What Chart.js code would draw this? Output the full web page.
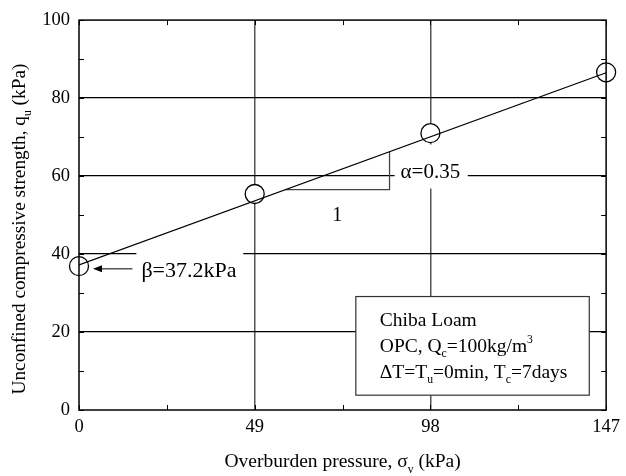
<!DOCTYPE html>
<html>
<head>
<meta charset="utf-8">
<script src="https://cdn.jsdelivr.net/npm/chart.js@4.4.1/dist/chart.umd.min.js"></script>
<style>
  html, body { margin: 0; padding: 0; background: #fff; }
  #wrap { width: 626px; height: 476px; }
</style>
</head>
<body>
<div id="wrap"><canvas id="chart" width="626" height="476"></canvas></div>
<script>
// measured points
const pressure = [0, 49, 98, 147];
const strength = [36.9, 55.4, 71.0, 86.6];
// fitted line qu = beta + alpha * sigma_v
const fitX = [0, 147];
const fitY = [37.2, 86.5];
// slope triangle
const triX = [57.5, 86.6, 86.6];
const triY = [56.5, 56.5, 66.2];
const xTicks = [0, 49, 98, 147];
const yTicks = [0, 20, 40, 60, 80, 100];
const xMinor = [24.5, 73.5, 122.5];
const yMinor = [10, 30, 50, 70, 90];

const FONT = "'Liberation Serif', 'Times New Roman', serif";

const toXY = (xs, ys) => xs.map((x, i) => ({ x: x, y: ys[i] }));

// write text with sub/superscript pieces: [text, 'n'|'sub'|'sup']
const drawRich = (ctx, parts, x, y, size, align) => {
  const widthOf = (p) => {
    ctx.font = (p[1] === 'n' ? size : size * 0.6) + 'px ' + FONT;
    return ctx.measureText(p[0]).width;
  };
  let total = parts.reduce((s, p) => s + widthOf(p), 0);
  let cx = align === 'center' ? x - total / 2 : x;
  ctx.textAlign = 'left';
  ctx.textBaseline = 'alphabetic';
  parts.forEach(p => {
    const w = widthOf(p);
    let dy = 0;
    if (p[1] === 'sub') dy = size * 0.3;
    if (p[1] === 'sup') dy = -size * 0.45;
    ctx.fillText(p[0], cx, y + dy);
    cx += w;
  });
};

const decor = {
  id: 'decor',
  beforeDatasetsDraw(chart) {
    const { ctx, chartArea: a, scales: { x, y } } = chart;
    ctx.save();
    ctx.fillStyle = '#fff';
    // gaps in the grid behind labels
    ctx.fillRect(x.getPixelForValue(88), y.getPixelForValue(68.1), x.getPixelForValue(108.4) - x.getPixelForValue(88), y.getPixelForValue(56.8) - y.getPixelForValue(68.1));
    ctx.fillRect(x.getPixelForValue(16), y.getPixelForValue(42), x.getPixelForValue(45.8) - x.getPixelForValue(16), y.getPixelForValue(32) - y.getPixelForValue(42));

    ctx.fillStyle = '#000';
    ctx.font = '21px ' + FONT;
    ctx.textAlign = 'center';
    ctx.textBaseline = 'alphabetic';
    ctx.fillText('\u03B1=0.35', x.getPixelForValue(98), y.getPixelForValue(59.6));
    ctx.font = '20px ' + FONT;
    ctx.fillText('1', x.getPixelForValue(72), y.getPixelForValue(48.6));
    ctx.textAlign = 'left';
    ctx.font = '22px ' + FONT;
    ctx.fillText('\u03B2=37.2kPa', x.getPixelForValue(17.4), y.getPixelForValue(34.2));

    // arrow pointing at beta
    const ay = y.getPixelForValue(36.2);
    const ax0 = x.getPixelForValue(14.9), ax1 = x.getPixelForValue(3.9);
    ctx.strokeStyle = '#000';
    ctx.lineWidth = 1;
    ctx.beginPath();
    ctx.moveTo(ax0, ay);
    ctx.lineTo(ax1 + 6, ay);
    ctx.stroke();
    ctx.beginPath();
    ctx.moveTo(ax1, ay);
    ctx.lineTo(ax1 + 9, ay - 3.5);
    ctx.lineTo(ax1 + 9, ay + 3.5);
    ctx.closePath();
    ctx.fill();

    // legend box
    const bx0 = x.getPixelForValue(77.2), bx1 = x.getPixelForValue(142.3);
    const by0 = y.getPixelForValue(29.1), by1 = y.getPixelForValue(3.8);
    ctx.fillStyle = '#fff';
    ctx.fillRect(bx0, by0, bx1 - bx0, by1 - by0);
    ctx.strokeStyle = '#333';
    ctx.lineWidth = 1.2;
    ctx.strokeRect(bx0, by0, bx1 - bx0, by1 - by0);
    ctx.fillStyle = '#000';
    const lx = bx0 + 24;
    ctx.font = '19.5px ' + FONT;
    ctx.textAlign = 'left';
    ctx.fillText('Chiba Loam', lx, by0 + 29);
    drawRich(ctx, [['OPC, Q', 'n'], ['c', 'sub'], ['=100kg/m', 'n'], ['3', 'sup']], lx, by0 + 55, 19.5, 'left');
    drawRich(ctx, [['\u0394T=T', 'n'], ['u', 'sub'], ['=0min, T', 'n'], ['c', 'sub'], ['=7days', 'n']], lx, by0 + 81, 19.5, 'left');
    ctx.restore();
  },
  afterDraw(chart) {
    const { ctx, chartArea: a, scales: { x, y } } = chart;
    ctx.save();
    ctx.strokeStyle = '#000';
    ctx.lineWidth = 1;
    // minor / major ticks inward on all four sides
    ctx.beginPath();
    xMinor.concat(xTicks).forEach(v => {
      const px = Math.round(x.getPixelForValue(v)) + 0.5;
      ctx.moveTo(px, a.bottom); ctx.lineTo(px, a.bottom - 5);
      ctx.moveTo(px, a.top); ctx.lineTo(px, a.top + 5);
    });
    yMinor.concat(yTicks).forEach(v => {
      const py = Math.round(y.getPixelForValue(v)) + 0.5;
      ctx.moveTo(a.left, py); ctx.lineTo(a.left + 5, py);
      ctx.moveTo(a.right, py); ctx.lineTo(a.right - 5, py);
    });
    ctx.stroke();
    // frame
    ctx.lineWidth = 1.5;
    ctx.strokeRect(a.left, a.top, a.right - a.left, a.bottom - a.top);

    // axis titles
    ctx.fillStyle = '#000';
    drawRich(ctx, [['Overburden pressure, \u03C3', 'n'], ['v', 'sub'], [' (kPa)', 'n']], (a.left + a.right) / 2, 467, 19.5, 'center');
    ctx.translate(25, (a.top + a.bottom) / 2 + 14);
    ctx.rotate(-Math.PI / 2);
    drawRich(ctx, [['Unconfined compressive strength, q', 'n'], ['u', 'sub'], [' (kPa)', 'n']], 0, 0, 19.3, 'center');
    ctx.restore();
  }
};

new Chart(document.getElementById('chart'), {
  type: 'scatter',
  data: {
    datasets: [
      {
        type: 'line',
        data: toXY(fitX, fitY),
        borderColor: '#000',
        borderWidth: 1.3,
        pointRadius: 0,
        fill: false,
        order: 0
      },
      {
        type: 'line',
        data: toXY(triX, triY),
        borderColor: '#444',
        borderWidth: 1.3,
        pointRadius: 0,
        fill: false,
        order: 1
      },
      {
        data: toXY(pressure, strength),
        pointRadius: 9.5,
        pointStyle: 'circle',
        pointBackgroundColor: '#fff',
        pointBorderColor: '#000',
        pointBorderWidth: 1.3,
        clip: false,
        order: 2
      }
    ]
  },
  options: {
    responsive: false,
    animation: false,
    devicePixelRatio: 1,
    layout: { padding: { left: 0, top: 18, right: 14, bottom: 0 } },
    plugins: { legend: { display: false }, tooltip: { enabled: false } },
    scales: {
      x: {
        type: 'linear',
        min: 0,
        max: 147,
        afterBuildTicks: (scale) => { scale.ticks = xTicks.map(v => ({ value: v })); },
        afterFit: (scale) => { scale.height = 66; },
        border: { display: false },
        grid: {
          drawTicks: false,
          lineWidth: 1.5,
          color: (c) => (c.tick && (c.tick.value === 49 || c.tick.value === 98)) ? '#555' : 'rgba(0,0,0,0)'
        },
        ticks: { color: '#000', font: { family: FONT, size: 18.5 }, padding: 6, maxRotation: 0 }
      },
      y: {
        min: 0,
        max: 100,
        afterBuildTicks: (scale) => { scale.ticks = yTicks.map(v => ({ value: v })); },
        afterFit: (scale) => { scale.width = 79; },
        border: { display: false },
        grid: {
          drawTicks: false,
          lineWidth: 1.2,
          color: (c) => (c.tick && c.tick.value > 0 && c.tick.value < 100) ? '#000' : 'rgba(0,0,0,0)'
        },
        ticks: { color: '#000', font: { family: FONT, size: 18.5 }, padding: 9 }
      }
    }
  },
  plugins: [decor]
});
</script>
</body>
</html>
